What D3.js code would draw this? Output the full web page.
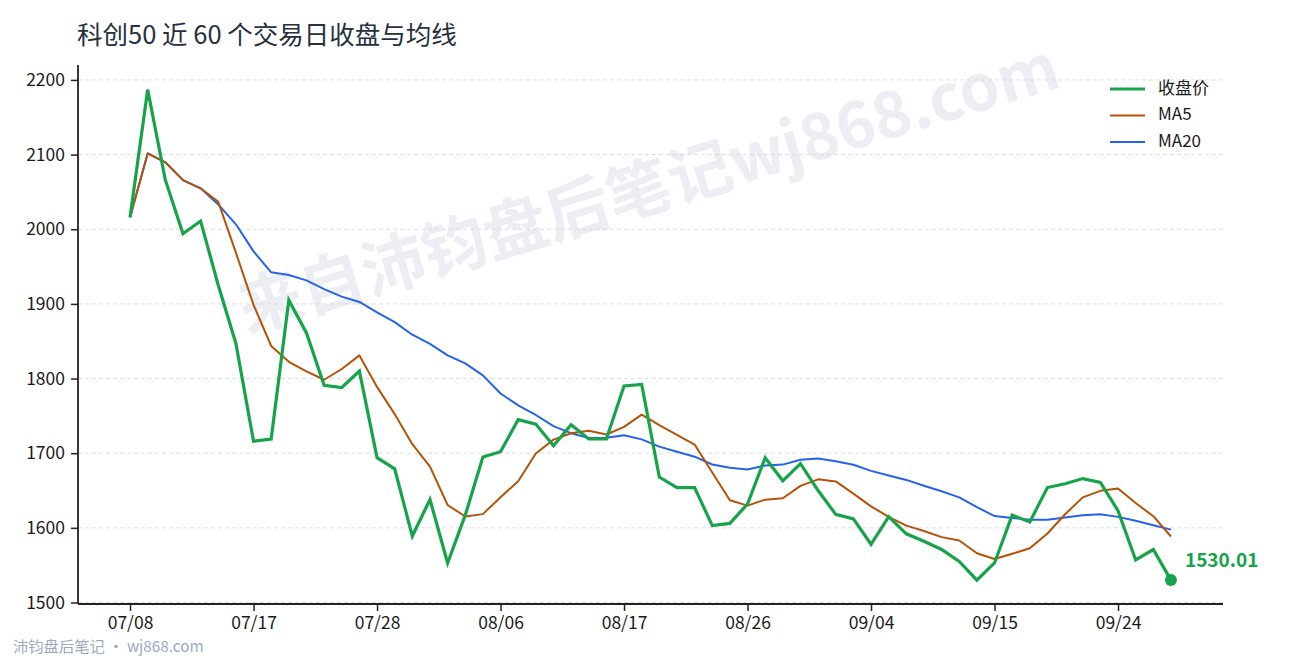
<!DOCTYPE html>
<html><head><meta charset="utf-8">
<script src="https://cdn.jsdelivr.net/npm/d3@7/dist/d3.min.js"></script>
<style>
html,body{margin:0;padding:0;background:#fff;}
svg{display:block;font-family:"Noto Sans CJK SC","Noto Sans",sans-serif;}
</style></head>
<body>
<svg id="c" width="1290" height="660"></svg>
<script>
const dates = ["07/08","07/09","07/10","07/13","07/14","07/15","07/16","07/17","07/20","07/21",
"07/22","07/23","07/24","07/27","07/28","07/29","07/30","07/31","08/03","08/04",
"08/05","08/06","08/07","08/10","08/11","08/12","08/13","08/14","08/17","08/18",
"08/19","08/20","08/21","08/24","08/25","08/26","08/27","08/28","08/31","09/01",
"09/02","09/03","09/04","09/07","09/08","09/09","09/10","09/11","09/14","09/15",
"09/16","09/17","09/18","09/21","09/22","09/23","09/24","09/25","09/28","09/29"];
const close = [2016,2187,2066,1994,2011,1925,1847,1716,1719,1905,
1861,1791,1788,1810,1694,1679,1589,1638,1553,1617,
1695,1702,1745,1739,1710,1738,1719,1719,1790,1792,
1668,1654,1654,1603,1606,1632,1694,1663,1686,1650,
1618,1612,1578,1615,1592,1582,1571,1555,1530,1553,
1617,1608,1654,1659,1666,1661,1623,1557,1571,1530.01];
const ma5 = [2016,2101.5,2089.7,2065.8,2054.8,2036.6,1968.6,1898.6,1843.6,1822.4,
1809.6,1798.4,1812.8,1831,1788.8,1752.4,1712,1682,1630.6,1615.2,
1618.4,1641,1662.4,1699.6,1718.2,1726.8,1730.2,1725,1735.2,1751.6,
1737.6,1724.6,1711.6,1674.2,1637,1629.8,1637.8,1639.6,1656.2,1665,
1662.2,1645.8,1628.8,1614.6,1603,1595.8,1587.6,1583,1566,1558.2,
1565.2,1572.6,1592.4,1618.2,1640.8,1649.6,1652.6,1633.2,1615.6,1588.4];
const ma20 = [2016,2101.5,2089.7,2065.8,2054.8,2033.2,2006.6,1970.3,1942.3,1938.6,
1931.5,1919.8,1909.7,1902.6,1888.7,1875.6,1858.7,1846.4,1831,1820.3,
1804.3,1780,1764,1751.2,1736.2,1726.8,1720.4,1720.6,1724.1,1718.5,
1708.8,1702,1695.3,1684.9,1680.5,1678.2,1683.4,1684.7,1691.3,1693,
1689.1,1684.6,1676.3,1670.1,1664.2,1656.4,1649,1640.8,1627.8,1615.8,
1613.3,1611,1611,1613.8,1616.8,1618.2,1614.7,1609.4,1603.6,1597.6];
const yTicks = [1500,1600,1700,1800,1900,2000,2100,2200];
const xTickIdx = [0,7,14,21,28,35,42,49,56];
const seriesNames = ["收盘价","MA5","MA20"];
const titleText = "科创50 近 60 个交易日收盘与均线";
const lastLabel = "1530.01";

const colors = {close:"#16a34a", ma5:"#b45309", ma20:"#2563eb"};
const svg = d3.select("#c");
const L=78, R=1223, T=65, B=604;
const x = d3.scaleLinear().domain([-2.95, 61.95]).range([L, R]);
const y = d3.scaleLinear().domain([1498, 2220]).range([B, T]);

// watermark
svg.append("text").attr("x",650).attr("y",193)
  .attr("transform","rotate(-16.8,650,193)")
  .attr("text-anchor","middle").attr("dominant-baseline","middle")
  .attr("font-size",64).attr("font-weight",700)
  .attr("fill","#eceef3")
  .text("来自沛钧盘后笔记wj868.com");

// grid
svg.append("g").selectAll("line").data(yTicks).join("line")
  .attr("x1",L).attr("x2",R).attr("y1",d=>y(d)).attr("y2",d=>y(d))
  .attr("stroke","#d9d9d9").attr("stroke-width",0.9).attr("stroke-dasharray","4,3");

// axes
const yAxis = svg.append("g").attr("transform",`translate(${L},0)`)
  .call(d3.axisLeft(y).tickValues(yTicks).tickFormat(d3.format("d")).tickSize(7).tickPadding(6).tickSizeOuter(0));
const xAxis = svg.append("g").attr("transform",`translate(0,${B})`)
  .call(d3.axisBottom(x).tickValues(xTickIdx).tickFormat(i=>dates[i]).tickSize(7).tickPadding(6).tickSizeOuter(0));
[yAxis,xAxis].forEach(g=>{
  g.selectAll("text").attr("font-size",17.5).attr("fill","#1a1a1a").attr("font-family",'"Noto Sans CJK SC","Noto Sans",sans-serif');
  g.selectAll("line").attr("stroke","#222").attr("stroke-width",1.5);
  g.select(".domain").attr("stroke","#222").attr("stroke-width",1.8);
});
yAxis.select(".domain").attr("d",`M0,${T}V${B}`);
xAxis.select(".domain").attr("d",`M${L},0H${R}`);

// lines
const line = d3.line().x((d,i)=>x(i)).y(d=>y(d));
svg.append("path").datum(ma20).attr("d",line).attr("fill","none").attr("stroke",colors.ma20).attr("stroke-width",2).attr("stroke-linejoin","round");
svg.append("path").datum(ma5).attr("d",line).attr("fill","none").attr("stroke",colors.ma5).attr("stroke-width",2).attr("stroke-linejoin","round");
svg.append("path").datum(close).attr("d",line).attr("fill","none").attr("stroke",colors.close).attr("stroke-width",3.2).attr("stroke-linejoin","miter");

// last point
const li = close.length-1;
svg.append("circle").attr("cx",x(li)).attr("cy",y(close[li])).attr("r",6).attr("fill",colors.close);
svg.append("text").attr("x",x(li)+14).attr("y",y(close[li])-18)
  .attr("font-size",19).attr("font-weight",700).attr("fill",colors.close)
  .attr("dominant-baseline","middle").text(lastLabel);

// legend
const lg = svg.append("g");
const lc = [colors.close, colors.ma5, colors.ma20];
const lw = [3.2,2,2];
seriesNames.forEach((n,k)=>{
  const yy = 89 + k*26.5;
  lg.append("line").attr("x1",1110).attr("x2",1145).attr("y1",yy).attr("y2",yy).attr("stroke",lc[k]).attr("stroke-width",lw[k]);
  lg.append("text").attr("x",1158).attr("y",yy).attr("dominant-baseline","middle").attr("font-size",17).attr("fill","#1a1a1a").text(n);
});

// title
svg.append("text").attr("x",77).attr("y",37).attr("dominant-baseline","middle")
  .attr("font-size",25.5).attr("fill","#263040").text(titleText);

// footer
svg.append("text").attr("x",13).attr("y",648).attr("dominant-baseline","middle")
  .attr("font-size",15.3).attr("fill","#9aa9c2").text("沛钧盘后笔记 · wj868.com");
</script>
</body></html>
